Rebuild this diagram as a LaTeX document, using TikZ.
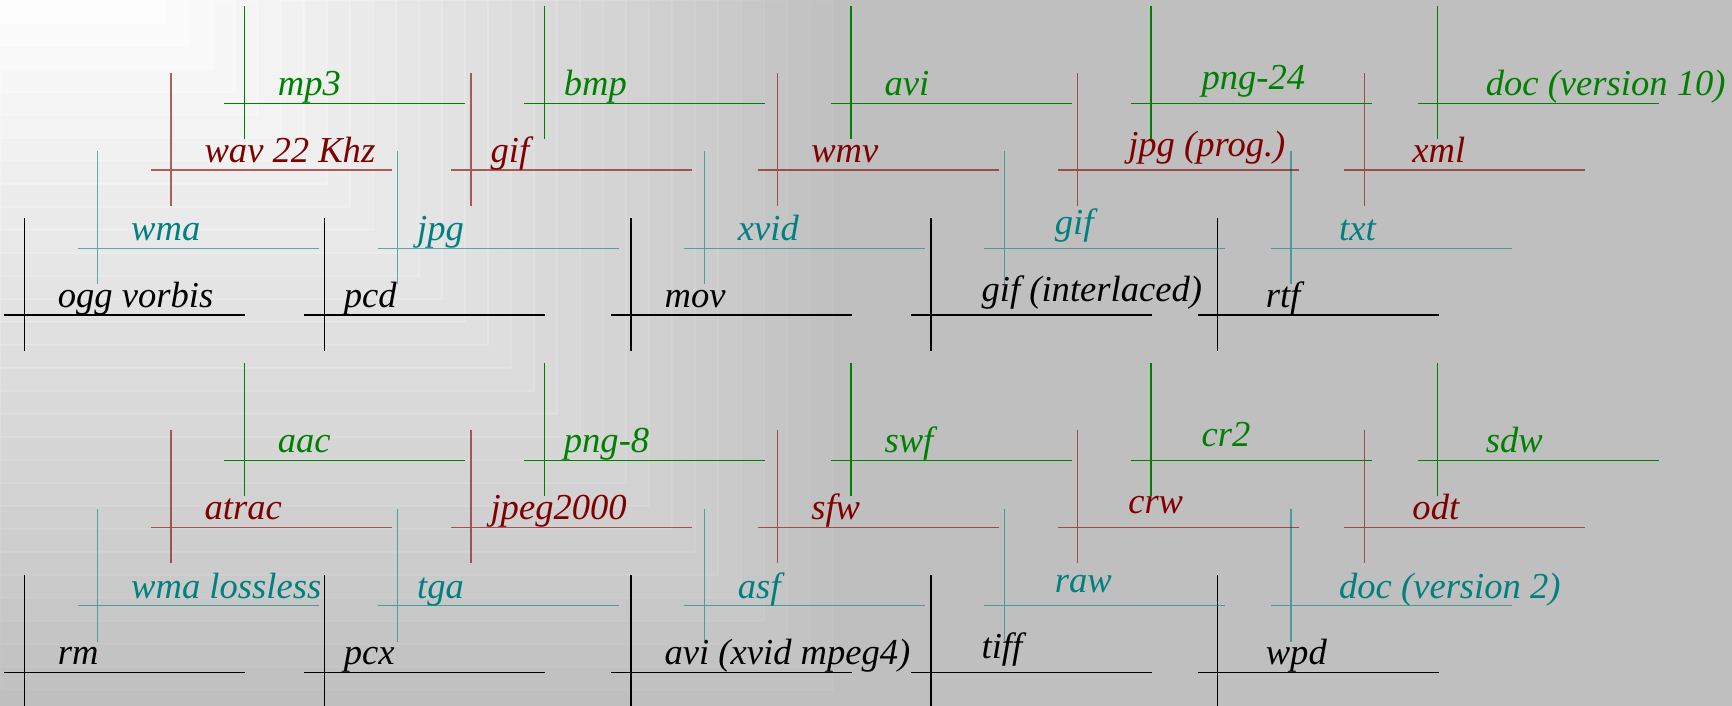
\documentclass[tikz,border=0pt]{standalone}
\usepackage{fontspec}
\setmainfont{Liberation Serif}
\definecolor{fmtgreen}{RGB}{0,128,0}
\definecolor{fmtred}{RGB}{128,0,0}
\definecolor{fmtteal}{RGB}{0,128,128}

% one row of crosses: name, colour, row shift, height of the bar, line style, labels
\newcommand\fmtrow[6]{%
  \foreach \lab [count=\c] in {#6}{
    \pgfmathsetmacro\vx{{24.3,324.3,631,931,1217.7}[\c-1]+73.33*#3}
    \pgfmathsetmacro\tx{\vx+{33,19,33,50,47.5}[\c-1]}
    \pgfmathsetmacro\ty{#4-7.5-{0,0,0,6,0}[\c-1]}
    \coordinate (#1-\c) at (\vx,#4);
    \draw[#2,#5] (#1-\c) ++(-20,0) -- ++(241,0)
              (#1-\c) ++(0,-97) -- ++(0,133);
    \node[fmtlabel,text=#2] (#1-\c-t) at (\tx,\ty) {\lab};
  }}

\begin{document}
\begin{tikzpicture}[x=0.01cm,y=-0.01cm,line width=0.35pt,
    fmtlabel/.style={anchor=base west,inner sep=0pt,
      font=\fontsize{10.4}{12}\selectfont\itshape},
    fmtsharp/.style={},
    fmtsoft/.style={draw opacity=0.6,line width=0.45pt}]
   \useasboundingbox (0,0) rectangle (1732,706);
   % stepped background
   \fill[black!25] (0,0) rectangle (1732,706);
   \foreach \i in {31,30,...,0}{
     \pgfmathsetmacro\shade{25*\i/31}
     \pgfmathsetmacro\edge{0.3*(1-\i/34)}
     \filldraw[fill=black!\shade,draw=white,draw opacity=\edge]
        (0,0) rectangle ({143+23*\i},{23*\i});}
   % upper block
   \fmtrow{tk}{black}{0}{315}{fmtsharp}{ogg vorbis,pcd,mov,gif (interlaced),rtf}
   \fmtrow{tt}{fmtteal}{1}{248.3}{fmtsoft}{wma,jpg,xvid,gif,txt}
   \fmtrow{tr}{fmtred}{2}{170}{fmtsoft}{wav 22 Khz,gif,wmv,jpg (prog.),xml}
   \fmtrow{tg}{fmtgreen}{3}{103.3}{fmtsharp}{mp3,bmp,avi,png-24,doc (version 10)}
   % lower block
   \fmtrow{bk}{black}{0}{672.3}{fmtsharp}{rm,pcx,avi (xvid mpeg4),tiff,wpd}
   \fmtrow{bt}{fmtteal}{1}{605.7}{fmtsoft}{wma lossless,tga,asf,raw,doc (version 2)}
   \fmtrow{br}{fmtred}{2}{527.3}{fmtsoft}{atrac,jpeg2000,sfw,crw,odt}
   \fmtrow{bg}{fmtgreen}{3}{460.3}{fmtsharp}{aac,png-8,swf,cr2,sdw}
\end{tikzpicture}
\end{document}
